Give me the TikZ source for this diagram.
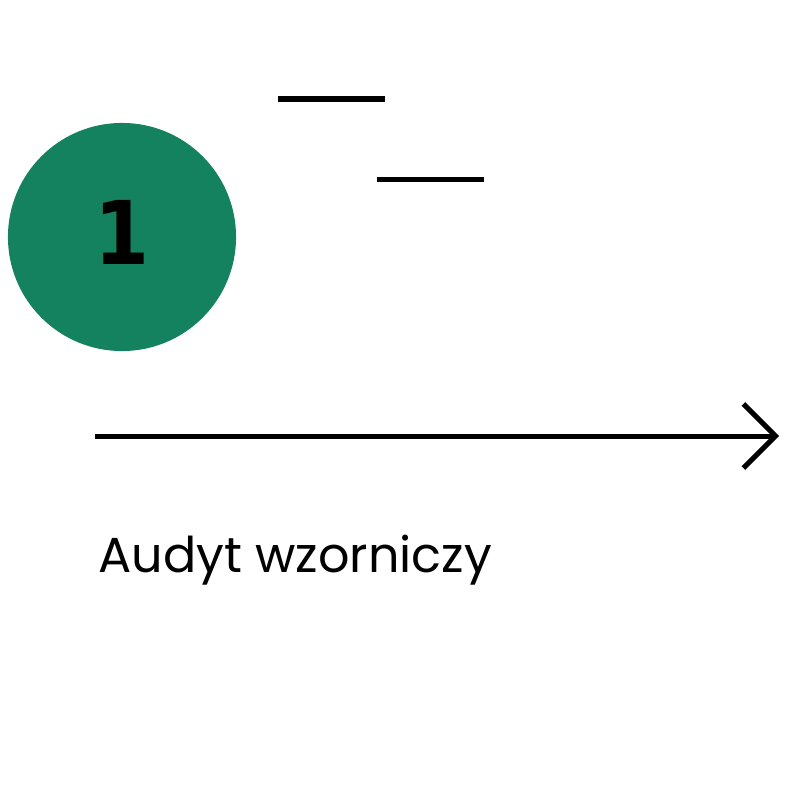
\documentclass[tikz,border=0pt]{standalone}
\usepackage{fontspec}
\setmainfont{Poppins}
\newfontfamily\numfont{DejaVu Sans Condensed}
\usetikzlibrary{arrows.meta}
\definecolor{stepgreen}{RGB}{20,130,95}
\begin{document}
\begin{tikzpicture}[x=0.01cm,y=-0.01cm]
    \useasboundingbox (0,0) rectangle (800,800);
    \node[circle, fill=stepgreen, minimum size=2.28cm, inner sep=0pt] (circ) at (122,237) {};
    \node[font=\numfont\bfseries\fontsize{25}{25}\selectfont, inner sep=0pt] (num) at (122,232) {1};
    \draw[line width=0.05cm] (278,99) -- (385,99);
    \draw[line width=0.05cm] (377,179) -- (484,179);
    \coordinate (start) at (95,436);
    \coordinate (tip) at (779,436);
    \draw[line width=0.05cm, -{Straight Barb[length=0.32cm,width=0.64cm,line width=0.05cm]}] (start) -- (tip);
    \node[anchor=base west, inner sep=0pt, font=\fontsize{14}{14}\selectfont] (label) at (98,572) {Audyt wzorniczy};
\end{tikzpicture}
\end{document}
